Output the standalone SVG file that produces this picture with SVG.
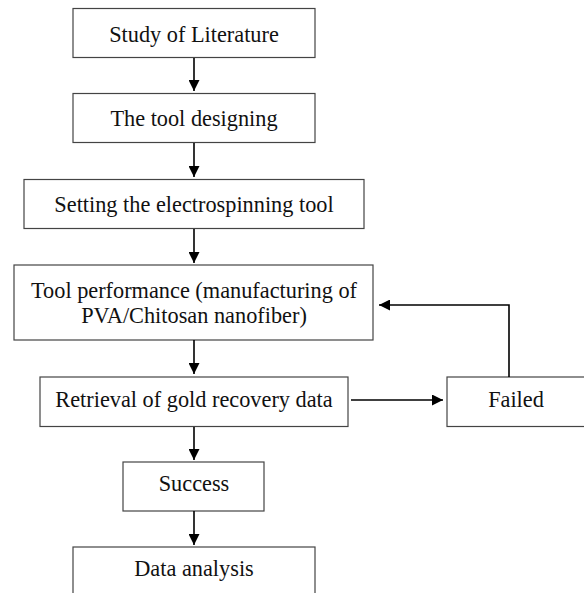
<svg xmlns="http://www.w3.org/2000/svg" width="584" height="593" viewBox="0 0 584 593">
<style>
.box{fill:#fff;stroke:#444;stroke-width:1.2}
.t{font-family:"Liberation Serif","Times New Roman",serif;font-size:22.3px;fill:#111;text-anchor:middle}
.c{fill:none;stroke:#000;stroke-width:1.6}
</style>
<defs>
<marker id="ah" viewBox="0 0 10 10" refX="10" refY="5" markerWidth="11" markerHeight="11" markerUnits="userSpaceOnUse" orient="auto">
<path d="M0,0 L10,5 L0,10 z" fill="#000"/>
</marker>
</defs>
<rect width="584" height="593" fill="#fff"/>
<g id="n1"><rect class="box" x="73" y="8.5" width="242" height="49"/><text class="t" x="194" y="41.5">Study of Literature</text></g>
<g id="n2"><rect class="box" x="73" y="93.5" width="242" height="49"/><text class="t" x="194" y="126">The tool designing</text></g>
<g id="n3"><rect class="box" x="24" y="179.5" width="340" height="49"/><text class="t" x="194" y="212">Setting the electrospinning tool</text></g>
<g id="n4"><rect class="box" x="14" y="265" width="359" height="75"/><text class="t" x="194" y="298">Tool performance (manufacturing of</text><text class="t" x="194" y="323">PVA/Chitosan nanofiber)</text></g>
<g id="n5"><rect class="box" x="40" y="377" width="308" height="49.5"/><text class="t" x="194" y="407">Retrieval of gold recovery data</text></g>
<g id="n6"><rect class="box" x="447" y="377" width="145" height="49.5"/><text class="t" x="516" y="407">Failed</text></g>
<g id="n7"><rect class="box" x="123" y="462" width="141" height="49"/><text class="t" x="194" y="491">Success</text></g>
<g id="n8"><rect class="box" x="73" y="547" width="242" height="60"/><text class="t" x="194" y="576">Data analysis</text></g>
<g id="connectors">
<line class="c" x1="194" y1="58" x2="194" y2="91" marker-end="url(#ah)"/>
<line class="c" x1="194" y1="143" x2="194" y2="177" marker-end="url(#ah)"/>
<line class="c" x1="194" y1="229" x2="194" y2="263" marker-end="url(#ah)"/>
<line class="c" x1="194" y1="340" x2="194" y2="374" marker-end="url(#ah)"/>
<line class="c" x1="351" y1="400" x2="443" y2="400" marker-end="url(#ah)"/>
<polyline class="c" points="509,377 509,305 379,305" marker-end="url(#ah)"/>
<line class="c" x1="194" y1="427" x2="194" y2="460" marker-end="url(#ah)"/>
<line class="c" x1="194" y1="511" x2="194" y2="545" marker-end="url(#ah)"/>
</g>
</svg>
